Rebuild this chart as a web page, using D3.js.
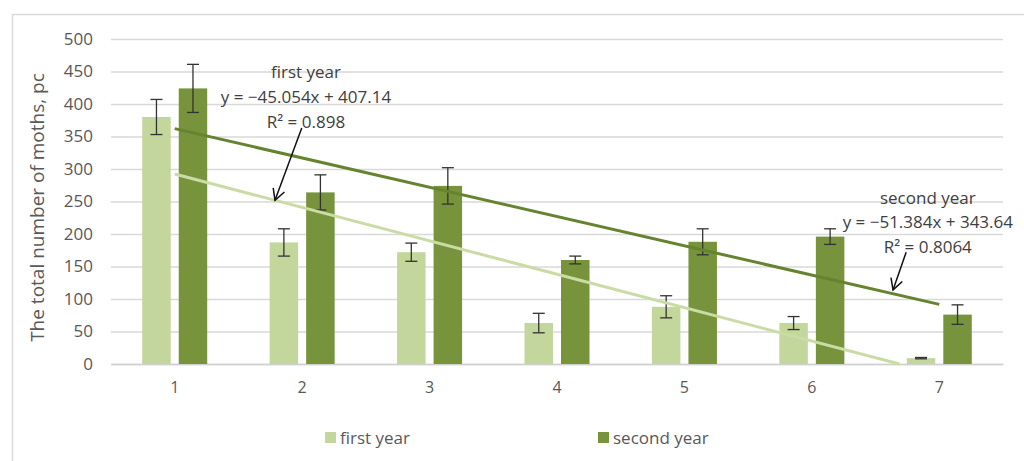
<!DOCTYPE html>
<html>
<head>
<meta charset="utf-8">
<script src="https://cdn.jsdelivr.net/npm/d3@7"></script>
<style>
  html, body { margin: 0; padding: 0; background: #ffffff; }
  svg { display: block; }
  text { font-family: "Open Sans", "Liberation Sans", sans-serif; }
</style>
</head>
<body>
<svg id="chart" width="1024" height="461"></svg>
<script>
// Sampling rounds 1..7
const categories = [1, 2, 3, 4, 5, 6, 7];
const seriesNames = ["first year", "second year"];
// Moth counts per round, with error half-widths
const firstYear = [380, 187, 172, 63, 88, 63, 9];
const firstYearErr = [27, 21, 14, 15, 17, 10, 1];
const secondYear = [424, 264, 274, 160, 188, 196, 76];
const secondYearErr = [37, 27, 28, 6, 20, 12, 15];
// Linear trendlines: [slope, intercept]
const firstTrend = [-51.384, 343.64];
const secondTrend = [-45.054, 407.14];
// Trendline labels as printed on the chart
const firstLabel = ["first year", "y = −45.054x + 407.14", "R² = 0.898"];
const secondLabel = ["second year", "y = −51.384x + 343.64", "R² = 0.8064"];
const yTicks = [0, 50, 100, 150, 200, 250, 300, 350, 400, 450, 500];

const colors = { "first year": "#c3d69b", "second year": "#77933c" };
const trendColors = { "first year": "#cadca6", "second year": "#66832f" };

const svg = d3.select("#chart");

// outer chart frame
svg.append("rect")
  .attr("x", 12.5).attr("y", 14.5)
  .attr("width", 1100).attr("height", 600)
  .attr("fill", "none").attr("stroke", "#d9d9d9").attr("stroke-width", 1.5);

const x = d3.scaleBand().domain(categories).range([111, 1003]).padding(0);
const xSeries = d3.scaleBand().domain(seriesNames).range([-32.5, 32.5]).paddingInner(0.22);
const xNum = d3.scaleLinear().domain([1, 7])
  .range([x(1) + x.bandwidth() / 2, x(7) + x.bandwidth() / 2]);
const y = d3.scaleLinear().domain([0, 500]).range([364, 39]);

// gridlines
svg.append("g")
  .attr("transform", `translate(${x.range()[0]},0)`)
  .call(d3.axisLeft(y).tickValues(yTicks).tickSize(-(x.range()[1] - x.range()[0])).tickFormat(""))
  .call(g => g.select(".domain").remove())
  .call(g => g.selectAll("line").attr("stroke", "#d9d9d9").attr("stroke-width", 1.3));

// y tick labels
svg.append("g")
  .attr("transform", `translate(${x.range()[0] - 18},0)`)
  .call(d3.axisLeft(y).tickValues(yTicks).tickSize(0).tickPadding(0))
  .call(g => g.select(".domain").remove())
  .call(g => g.selectAll("text")
    .attr("font-size", 17).attr("fill", "#595959")
    .attr("font-family", "'Open Sans', sans-serif"));

// x axis
svg.append("g")
  .attr("transform", `translate(0,${y(0)})`)
  .call(d3.axisBottom(x).tickSize(0).tickPadding(18))
  .call(g => g.select(".domain").attr("stroke", "#d0d0d0").attr("stroke-width", 1.3))
  .call(g => g.selectAll("text")
    .attr("font-size", 16).attr("fill", "#595959")
    .attr("font-family", "'Open Sans', sans-serif"));

// y axis title
svg.append("text")
  .attr("transform", `translate(44,${(y(0) + y(500)) / 2 + 6}) rotate(-90)`)
  .attr("text-anchor", "middle")
  .attr("font-size", 19).attr("fill", "#595959")
  .text("The total number of moths, pc");

// bars
const seriesData = [
  { name: "first year", values: firstYear, err: firstYearErr },
  { name: "second year", values: secondYear, err: secondYearErr }
];

const groups = svg.append("g").selectAll("g")
  .data(categories).join("g")
  .attr("transform", d => `translate(${x(d) + x.bandwidth() / 2},0)`);

groups.selectAll("rect")
  .data((c, i) => seriesData.map(s => ({ name: s.name, v: s.values[i], e: s.err[i] })))
  .join("rect")
  .attr("x", d => xSeries(d.name))
  .attr("width", xSeries.bandwidth())
  .attr("y", d => y(d.v))
  .attr("height", d => y(0) - y(d.v))
  .attr("fill", d => colors[d.name]);

// trendlines
function trendPoints(t) {
  const [m, b] = t;
  const xEnd = Math.min(7, m < 0 ? -b / m : 7);
  return [[1, m + b], [xEnd, m * xEnd + b]];
}
const line = d3.line().x(d => xNum(d[0])).y(d => y(d[1]));
svg.append("path").datum(trendPoints(firstTrend))
  .attr("d", line).attr("fill", "none")
  .attr("stroke", trendColors["first year"]).attr("stroke-width", 3);
svg.append("path").datum(trendPoints(secondTrend))
  .attr("d", line).attr("fill", "none")
  .attr("stroke", trendColors["second year"]).attr("stroke-width", 3);

// error bars
const errG = groups.selectAll("g.err")
  .data((c, i) => seriesData.map(s => ({ name: s.name, v: s.values[i], e: s.err[i] })))
  .join("g").attr("class", "err")
  .attr("stroke", "#333333").attr("stroke-width", 1.3);
errG.append("line")
  .attr("x1", d => xSeries(d.name) + xSeries.bandwidth() / 2)
  .attr("x2", d => xSeries(d.name) + xSeries.bandwidth() / 2)
  .attr("y1", d => y(d.v + d.e)).attr("y2", d => y(d.v - d.e));
[1, -1].forEach(sgn => {
  errG.append("line")
    .attr("x1", d => xSeries(d.name) + xSeries.bandwidth() / 2 - 6)
    .attr("x2", d => xSeries(d.name) + xSeries.bandwidth() / 2 + 6)
    .attr("y1", d => y(d.v + sgn * d.e)).attr("y2", d => y(d.v + sgn * d.e));
});

// arrow marker
svg.append("defs").append("marker")
  .attr("id", "arrowhead")
  .attr("markerUnits", "userSpaceOnUse")
  .attr("viewBox", "-12 -8 14 16")
  .attr("markerWidth", 14).attr("markerHeight", 16)
  .attr("refX", 0).attr("refY", 0)
  .attr("orient", "auto")
  .append("path")
  .attr("d", "M-11,-6 L0,0 L-11,6")
  .attr("fill", "none").attr("stroke", "#111").attr("stroke-width", 1.5);

// trendline annotations: label block centre and arrow in data units
const annotations = [
  { lines: firstLabel, cx: 2.03, ys: [449, 411, 372], from: [1.997, 363], to: [1.787, 252] },
  { lines: secondLabel, cx: 6.91, ys: [255, 218, 180], from: [6.74, 172], to: [6.637, 114] }
];
annotations.forEach(a => {
  a.lines.forEach((t, i) => {
    svg.append("text")
      .attr("x", xNum(a.cx)).attr("y", y(a.ys[i]))
      .attr("dy", "0.35em")
      .attr("text-anchor", "middle")
      .attr("font-size", 17).attr("fill", "#404040")
      .text(t);
  });
  svg.append("line")
    .attr("x1", xNum(a.from[0])).attr("y1", y(a.from[1]))
    .attr("x2", xNum(a.to[0])).attr("y2", y(a.to[1]))
    .attr("stroke", "#111").attr("stroke-width", 1.5)
    .attr("marker-end", "url(#arrowhead)");
});

// legend
const legendX = d3.scalePoint().domain(seriesNames).range([325, 598]);
const legend = svg.append("g").selectAll("g")
  .data(seriesNames).join("g")
  .attr("transform", d => `translate(${legendX(d)},438)`);
legend.append("rect")
  .attr("x", 0).attr("y", -6).attr("width", 11).attr("height", 11)
  .attr("fill", d => colors[d]);
legend.append("text")
  .attr("x", 15).attr("dy", "0.35em")
  .attr("font-size", 17).attr("fill", "#595959")
  .text(d => d);
</script>
</body>
</html>
